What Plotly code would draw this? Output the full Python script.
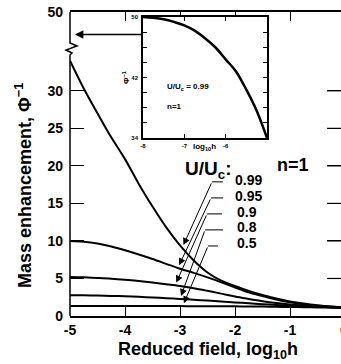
import numpy as np
import plotly.graph_objects as go

# ---- data -------------------------------------------------------------
LOG_H = [-5.0, -4.75, -4.5, -4.25, -4.0, -3.75, -3.5, -3.25, -3.0, -2.75, -2.5,
         -2.25, -2.0, -1.75, -1.5, -1.25, -1.0, -0.75, -0.5, -0.25, 0.0]

PHI_099 = [34.0, 30.3, 27.0, 23.8, 20.9, 17.6, 14.6, 11.8, 9.4, 7.4, 5.8,
           4.7, 4.0, 3.35, 2.8, 2.35, 1.95, 1.65, 1.42, 1.25, 1.13]
PHI_095 = [10.0, 9.9, 9.65, 9.25, 8.75, 8.2, 7.6, 6.95, 6.3, 5.75, 5.15,
           4.5, 3.8, 3.15, 2.65, 2.2, 1.82, 1.55, 1.36, 1.22, 1.12]
PHI_090 = [5.2, 5.15, 5.07, 4.97, 4.83, 4.66, 4.46, 4.24, 4.0, 3.7, 3.35,
           2.98, 2.6, 2.28, 1.98, 1.73, 1.53, 1.38, 1.26, 1.17, 1.1]
PHI_080 = [2.78, 2.76, 2.73, 2.68, 2.62, 2.55, 2.47, 2.38, 2.28, 2.17, 2.05,
           1.93, 1.81, 1.69, 1.58, 1.48, 1.39, 1.3, 1.22, 1.15, 1.1]
PHI_050 = [1.33, 1.33, 1.33, 1.33, 1.33, 1.33, 1.32, 1.32, 1.32, 1.31, 1.31,
           1.3, 1.29, 1.27, 1.25, 1.23, 1.2, 1.17, 1.14, 1.11, 1.08]

RATIO_LABELS = ["0.99", "0.95", "0.9", "0.8", "0.5"]
SERIES = [PHI_099, PHI_095, PHI_090, PHI_080, PHI_050]

# inset: low-field behaviour of the U/Uc = 0.99 curve
INSET_LOG_H = [-8.0, -7.75, -7.5, -7.25, -7.0, -6.75, -6.5, -6.25, -6.0,
               -5.75, -5.5, -5.25, -5.0]
INSET_PHI = [50.0, 49.9, 49.7, 49.35, 48.9, 48.2, 47.2, 46.0, 44.4,
             42.8, 40.4, 37.6, 34.0]

Y_TICKS = [0, 5, 10, 15, 20, 25, 30, 40.5]
Y_TICK_TEXT = ["0", "5", "10", "15", "20", "25", "30", "50"]
X_TICKS = [-5, -4, -3, -2, -1, 0]
X_TICK_TEXT = ["-5", "-4", "-3", "-2", "-1", "0"]
INSET_X_TICKS = [-8, -7, -6, -5]
INSET_X_TEXT = ["-8", "-7", "-6", ""]
INSET_Y_TICKS = [34, 36, 38, 40, 42, 44, 46, 48, 50]
INSET_Y_TEXT = ["34", "", "", "", "42", "", "", "", "50"]

# ---- layout geometry (pixels) -----------------------------------------
W, H = 341, 364
ML, MT, MB = 70, 12, 48
PW, PH = W - ML, H - MT - MB
FONT = "Liberation Sans, Arial, Helvetica, sans-serif"
X_PER_UNIT = 55.0
X_MAX = -5 + PW / X_PER_UNIT
Y_TICKLEN = 14


def px(xp, yp):
    """pixel position -> paper coordinates"""
    return (xp - ML) / PW, (H - MB - yp) / PH


fig = go.Figure()

for vals in SERIES:
    fig.add_trace(go.Scatter(x=LOG_H, y=vals, mode="lines",
                             line=dict(color="black", width=2, shape="spline"),
                             showlegend=False, hoverinfo="skip"))

fig.add_trace(go.Scatter(x=INSET_LOG_H, y=INSET_PHI, mode="lines",
                         xaxis="x2", yaxis="y2",
                         line=dict(color="black", width=2.5, shape="spline"),
                         showlegend=False, hoverinfo="skip"))

# inset domain
ix0, iy0 = px(143, 138)
ix1, iy1 = px(267, 17)

fig.update_layout(
    width=W, height=H,
    margin=dict(l=ML, r=0, t=MT, b=MB),
    paper_bgcolor="white", plot_bgcolor="white",
    font=dict(family=FONT, color="black"),
    xaxis=dict(range=[-5, X_MAX], tickvals=X_TICKS, ticktext=X_TICK_TEXT,
               ticks="inside", ticklen=9, tickwidth=1.2, tickcolor="black",
               showline=True, linewidth=1.5, linecolor="black", mirror="ticks",
               showgrid=False, zeroline=False, ticklabelstandoff=0,
               tickfont=dict(size=14, weight="bold")),
    yaxis=dict(range=[0, 40.5], tickvals=Y_TICKS, ticktext=Y_TICK_TEXT,
               ticks="inside", ticklen=Y_TICKLEN, tickwidth=1.2, tickcolor="black",
               showline=False, mirror="ticks",
               showgrid=False, zeroline=False, ticklabelstandoff=6,
               tickfont=dict(size=14, weight="bold")),
    xaxis2=dict(domain=[ix0, ix1], anchor="y2", range=[-8, -5],
                tickvals=INSET_X_TICKS, ticktext=INSET_X_TEXT,
                ticks="inside", ticklen=4, tickwidth=1, tickcolor="black",
                showline=True, linewidth=1.5, linecolor="black", mirror="ticks",
                showgrid=False, zeroline=False, ticklabelstandoff=1,
                tickfont=dict(size=6, weight="bold")),
    yaxis2=dict(domain=[iy0, iy1], anchor="x2", range=[34, 50],
                tickvals=INSET_Y_TICKS, ticktext=INSET_Y_TEXT,
                ticks="inside", ticklen=4, tickwidth=1, tickcolor="black",
                showline=True, linewidth=1.5, linecolor="black", mirror="ticks",
                showgrid=False, zeroline=False, ticklabelstandoff=2,
                tickfont=dict(size=6, weight="bold")),
)

# left axis line with a break (zig-zag) below the top tick
brk = [(70, 12), (70, 43), (77, 46), (66, 50), (72, 53), (70, 55), (70, 316)]
path = "M " + " L ".join("{:.4f},{:.4f}".format(*px(a, b)) for a, b in brk)
fig.add_shape(type="path", path=path, xref="paper", yref="paper",
              line=dict(color="black", width=1.5))

# tick marks along the right-hand frame edge
for v in Y_TICKS[1:-1]:
    fig.add_shape(type="line", xref="paper", yref="y",
                  x0=1 - Y_TICKLEN / PW, x1=1, y0=v, y1=v,
                  line=dict(color="black", width=1.2))

ann = []
# axis titles
tx, ty = px(23, 186)
ann.append(dict(x=tx, y=ty, xref="paper", yref="paper", textangle=-90,
                text="Mass enhancement, Φ<sup>−1</sup>", showarrow=False,
                font=dict(size=18, weight="bold"), xanchor="center", yanchor="middle"))
tx, ty = px(208, 350)
ann.append(dict(x=tx, y=ty, xref="paper", yref="paper",
                text="Reduced field, log<sub>10</sub>h", showarrow=False,
                font=dict(size=18, weight="bold"), xanchor="center", yanchor="middle"))

# the "0" tick label sits at the right edge, just past the visible range
tx, ty = px(344, 330)
ann.append(dict(x=tx, y=ty, xref="paper", yref="paper", text="0",
                showarrow=False, xanchor="center", yanchor="middle",
                font=dict(size=14, weight="bold")))

# arrow from the inset to the broken part of the axis
ann.append(dict(x=-4.91, y=37.5, xref="x", yref="y", ax=-3.67, ay=37.5,
                axref="x", ayref="y", text="", showarrow=True,
                arrowhead=2, arrowsize=1.3, arrowwidth=1.3, arrowcolor="black"))

# key text
ann.append(dict(x=-2.945, y=19.5, xref="x", yref="y", text="U/U<sub>c</sub>:",
                showarrow=False, xanchor="left", yanchor="middle",
                font=dict(size=19, weight="bold")))
ann.append(dict(x=-1.27, y=20.1, xref="x", yref="y", text="n=1",
                showarrow=False, xanchor="left", yanchor="middle",
                font=dict(size=18, weight="bold")))

label_x = [-2.036, -2.036, -2.0, -2.0, -2.0]
label_y = [18.1, 16.0, 13.9, 11.9, 9.7]
kink_x = [-2.418, -2.436, -2.509, -2.545, -2.49]
kink_y = [17.87, 15.73, 13.6, 11.47, 9.33]
lead_end_x = [-2.218, -2.218, -2.236, -2.218, -2.31]
tip_x = [-2.96, -3.04, -3.09, -3.0, -2.95]

for lab, vals, lx, ly, kx, ky, ex, tx_ in zip(RATIO_LABELS, SERIES, label_x, label_y,
                                            kink_x, kink_y, lead_end_x, tip_x):
    ann.append(dict(x=lx, y=ly, xref="x", yref="y", text=lab, showarrow=False,
                    xanchor="left", yanchor="middle",
                    font=dict(size=14, weight="bold")))
    fig.add_shape(type="line", x0=kx, x1=ex, y0=ky, y1=ky, xref="x", yref="y",
                  line=dict(color="black", width=1))
    tip_y = float(np.interp(tx_, LOG_H, vals))
    ann.append(dict(x=tx_, y=tip_y, xref="x", yref="y", ax=kx, ay=ky,
                    axref="x", ayref="y", text="", showarrow=True,
                    arrowhead=2, arrowsize=1.4, arrowwidth=1, standoff=3,
                    arrowcolor="black"))

# inset texts
ann.append(dict(x=-7.47, y=40.7, xref="x2", yref="y2",
                text="U/U<sub>c</sub> = 0.99", showarrow=False,
                xanchor="left", yanchor="middle", font=dict(size=8, weight="bold")))
ann.append(dict(x=-7.47, y=38.1, xref="x2", yref="y2", text="n=1",
                showarrow=False, xanchor="left", yanchor="middle",
                font=dict(size=8, weight="bold")))
tx, ty = px(126, 78)
ann.append(dict(x=tx, y=ty, xref="paper", yref="paper", textangle=-90,
                text="Φ<sup>−1</sup>", showarrow=False,
                font=dict(size=8, weight="bold"), xanchor="center", yanchor="middle"))
tx, ty = px(204, 147)
ann.append(dict(x=tx, y=ty, xref="paper", yref="paper",
                text="log<sub>10</sub>h", showarrow=False,
                font=dict(size=8, weight="bold"), xanchor="center", yanchor="middle"))

fig.update_layout(annotations=ann)
fig.write_html("out.html")
